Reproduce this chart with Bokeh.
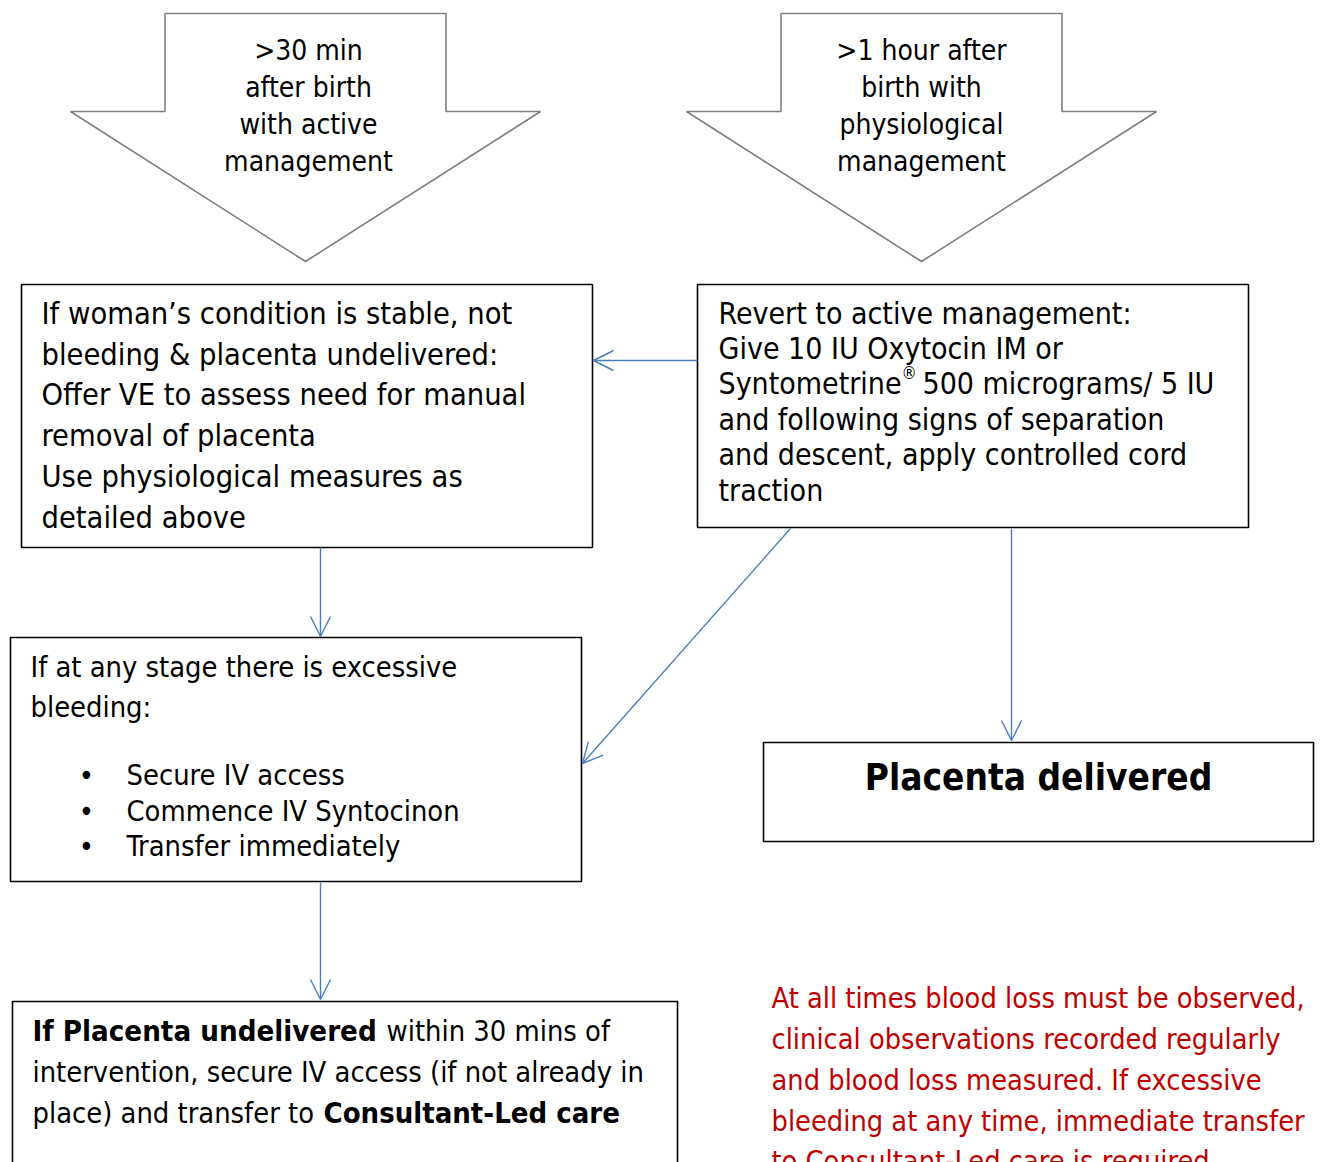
from bokeh.plotting import figure
from bokeh.models import Range1d, Arrow, OpenHead
from bokeh.core.properties import value
from bokeh.embed import file_html
from bokeh.resources import INLINE

FONT = "DejaVu Sans Condensed"
FONT_B = "DejaVu Sans Condensed"
BLUE = "#4A7EBB"
RED = "#C00000"

# ---------------- texts ----------------
arrow_left_lines = [">30 min", "after birth", "with active", "management"]
arrow_right_lines = [">1 hour after", "birth with", "physiological", "management"]
box_a_lines = ["If woman\u2019s condition is stable, not",
               "bleeding & placenta undelivered:",
               "Offer VE to assess need for manual",
               "removal of placenta",
               "Use physiological measures as",
               "detailed above"]
box_b_lines = ["Revert to active management:",
               "Give 10 IU Oxytocin IM or",
               "Syntometrine",
               "and following signs of separation",
               "and descent, apply controlled cord",
               "traction"]
box_b_sup = "\u00ae"
box_b_tail = "500 micrograms/ 5 IU"
box_c_lines = ["If at any stage there is excessive", "bleeding:"]
box_c_bullets = ["Secure IV access", "Commence IV Syntocinon", "Transfer immediately"]
box_d_text = "Placenta delivered"
box_e_line1 = ["If Placenta undelivered", "within 30 mins of"]
box_e_line2 = "intervention, secure IV access (if not already in"
box_e_line3 = ["place) and transfer to", "Consultant-Led care"]
red_lines = ["At all times blood loss must be observed,",
             "clinical observations recorded regularly",
             "and blood loss measured. If excessive",
             "bleeding at any time, immediate transfer",
             "to Consultant-Led care is required."]

# ---------------- layout (page pixel coordinates) ----------------
W, H = 1320, 1162
p = figure(width=W, height=H, x_range=Range1d(0, W), y_range=Range1d(H, 0),
           output_backend="svg", toolbar_location=None, min_border=0,
           x_axis_location=None, y_axis_location=None)
p.grid.visible = False
p.outline_line_color = None
p.background_fill_color = "white"


def block_arrow(cx, top, head_y, tip_y, shaft_half, head_half):
    xs = [cx - shaft_half, cx + shaft_half, cx + shaft_half, cx + head_half, cx,
          cx - head_half, cx - shaft_half]
    ys = [top, top, head_y, head_y, tip_y, head_y, head_y]
    return xs, ys


la = block_arrow(305, 13, 111, 261, 140.5, 235)
ra = block_arrow(921, 13, 111, 261, 140.5, 235)
p.patches([la[0], ra[0]], [la[1], ra[1]], fill_color="white", line_color="#7F7F7F", line_width=1.6)

# boxes
p.quad(left=[21, 697, 10, 763, 12], right=[592, 1248, 581, 1313, 677],
       top=[284, 284, 637, 742, 1001], bottom=[547, 527, 881, 841, 1175],
       fill_color="white", line_color="black", line_width=1.6)


def txt(xs, ys, texts, size, color="black", align="left", font=FONT, style="normal"):
    p.text(x=xs, y=ys, text=texts, text_font=value(font), text_font_size=value(size),
           text_color=color, text_align=align, text_baseline="middle", text_font_style=style)


# arrow texts
txt([308] * 4, [50, 87, 124, 161], arrow_left_lines, "28px", align="center")
txt([921] * 4, [50, 87, 124, 161], arrow_right_lines, "28px", align="center")

# box A
txt([41] * 6, [313, 354, 394, 435, 476, 517], box_a_lines, "30.5px")
# box B
txt([718] * 6, [313, 348, 383, 419, 454, 490], box_b_lines, "30px")
txt([901], [372], [box_b_sup], "17px")
txt([922], [383], [box_b_tail], "30px")
# box C
txt([30, 30], [666, 706], box_c_lines, "28.8px")
txt([86] * 3, [774, 810, 845], ["\u2022"] * 3, "28.8px", align="center")
txt([126] * 3, [774, 810, 845], box_c_bullets, "28.8px")
# box D
txt([1038], [777], [box_d_text], "36.7px", align="center", font=FONT_B, style="bold")
# box E
txt([32], [1030], [box_e_line1[0]], "29.2px", font=FONT_B, style="bold")
txt([386], [1030], [box_e_line1[1]], "28.8px")
txt([32], [1071], [box_e_line2], "28.8px")
txt([32], [1112], [box_e_line3[0]], "28.8px")
txt([323], [1112], [box_e_line3[1]], "29px", font=FONT_B, style="bold")
# red note
txt([771] * 5, [997, 1038, 1079, 1120, 1160], red_lines, "28.7px", color=RED)

# connectors
conns = [(697, 360, 593, 360), (320, 547, 320, 636), (790, 528, 582, 763),
         (1011, 528, 1011, 740), (320, 882, 320, 999)]
for xs0, ys0, xe, ye in conns:
    p.add_layout(Arrow(end=OpenHead(size=20, line_color=BLUE, line_width=1.4),
                       x_start=xs0, y_start=ys0, x_end=xe, y_end=ye,
                       line_color=BLUE, line_width=1.4))

open("out.html", "w").write(file_html(p, INLINE))
